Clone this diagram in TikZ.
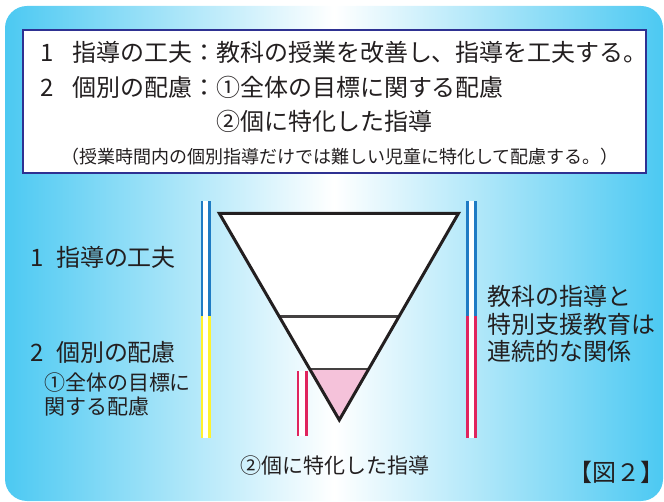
\documentclass[tikz,border=0pt]{standalone}
\usepackage{fontspec}
\setmainfont{Noto Sans CJK JP}
\usetikzlibrary{calc}
\definecolor{bgc}{HTML}{4CC9F2}
\definecolor{navy}{HTML}{2E3192}
\definecolor{barblue}{HTML}{1F7BC4}
\definecolor{baryel}{HTML}{FFF22E}
\definecolor{barmag}{HTML}{E0245E}
\definecolor{pinkfill}{HTML}{F5C2DA}
\definecolor{tc}{HTML}{231F20}
\tikzset{
  txt/.style={inner sep=0pt, outer sep=0pt, text=tc, anchor=base west, font=\fontsize{24pt}{28pt}\selectfont},
  txtsm/.style={txt, font=\fontsize{21pt}{25pt}\selectfont},
  txtxs/.style={inner sep=0pt, outer sep=0pt, text=tc, anchor=base, font=\fontsize{18pt}{21pt}\selectfont},
  tri/.style={draw=tc, line width=3pt, line join=miter},
  level/.style={draw=tc!85, line width=2.5pt},
}
\begin{document}
\begin{tikzpicture}[x=1pt,y=-1pt]
\useasboundingbox (0,0) rectangle (664,502);
% background
\shade[left color=bgc, right color=bgc, middle color=white, rounded corners=22pt] (5,6) rectangle (663,501);
% top box
\draw[navy, line width=2.2pt, fill=white] (23,30) rectangle (646,173);
\node[txt] (l1n) at (40,62) {1};
\node[txt] (l1t) at (72,62) {指導の工夫：教科の授業を改善し、指導を工夫する。};
\node[txt] (l2n) at (40,97) {2};
\node[txt] (l2t) at (72,97) {個別の配慮：①全体の目標に関する配慮};
\node[txt] (l3t) at (216,131) {②個に特化した指導};
\node[txtxs] (l4t) at (340,164) {（授業時間内の個別指導だけでは難しい児童に特化して配慮する。）};
% bars
\fill[barblue] (200.5,201.5) rectangle (210.5,316.5);
\fill[baryel] (200.5,316.5) rectangle (210.5,438);
\fill[white] (203.2,201.5) rectangle (207.8,438);
\fill[barblue] (466,201.5) rectangle (476.5,316.5);
\fill[barmag] (466,316.5) rectangle (476.5,438);
\fill[white] (468.8,201.5) rectangle (473.7,438);
\fill[barmag] (296.5,371) rectangle (307.5,436);
\fill[white] (299.3,371) rectangle (304.7,436);
% triangle
\coordinate (tl) at (219.3,213.3);
\coordinate (tr) at (458.5,213.3);
\coordinate (bt) at (339.3,420);
\coordinate (ml) at ($(tl)!0.5!(bt)$);
\coordinate (mr) at ($(tr)!0.5!(bt)$);
\coordinate (ll) at ($(tl)!0.753!(bt)$);
\coordinate (lr) at ($(tr)!0.753!(bt)$);
\fill[white] (tl) -- (tr) -- (bt) -- cycle;
\fill[pinkfill] (ll) -- (lr) -- (bt) -- cycle;
\draw[level] (ml) -- (mr);
\draw[level] (ll) -- (lr);
\draw[tri] (tl) -- (tr) -- (bt) -- cycle;
% left labels
\node[txt] (a1n) at (30,267) {1};
\node[txt] (a1t) at (56,267) {指導の工夫};
\node[txt] (a2n) at (30,362) {2};
\node[txt] (a2t) at (56,362) {個別の配慮};
\node[txtsm] (a3t) at (44,391) {①全体の目標に};
\node[txtsm] (a4t) at (44,414) {関する配慮};
% right labels
\node[txt] (r1) at (487,306) {教科の指導と};
\node[txt] (r2) at (487,334) {特別支援教育は};
\node[txt] (r3) at (487,361) {連続的な関係};
% bottom
\node[txtsm] (b1) at (240,473) {②個に特化した指導};
\node[txt, anchor=base east] (fig) at (664,481) {【図２】};
\end{tikzpicture}
\end{document}
